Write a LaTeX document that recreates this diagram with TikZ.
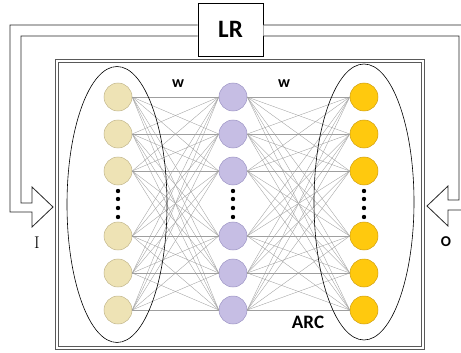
\documentclass[tikz,border=0pt]{standalone}
\usepackage{fontspec}
\setsansfont{Carlito}
\usepackage{tikz}
\usetikzlibrary{calc}

\definecolor{inbeige}{HTML}{EEE3B5}
\definecolor{inedge}{HTML}{C2B78C}
\definecolor{hidlav}{HTML}{C6BEE4}
\definecolor{hidedge}{HTML}{9D95C4}
\definecolor{outgold}{HTML}{FFC90E}
\definecolor{outedge}{HTML}{D09F10}

\begin{document}
\begin{tikzpicture} [x=1pt, y=-1pt,
  neuron/.style={circle, minimum size=28pt, inner sep=0pt, line width=.5pt},
  wire/.style={gray!75, line width=.35pt},
  hollow/.style={black!85, line width=.8pt, fill=white, line join=miter},
  frame/.style={gray!70!black, line width=.7pt},
  lab/.style={font=\sffamily\bfseries}]
\useasboundingbox (0,0) rectangle (461,353);
\clip (0,0) rectangle (461,353);

\node[draw, fill=white, minimum width=65pt, minimum height=53pt, line width=.8pt, font=\sffamily\bfseries\fontsize{25}{27}\selectfont] (lr) at (230.5,29.5) {LR};

\draw[hollow] ([yshift=4.5pt]lr.west) -- (10,25) -- (10,212) -- (32,212) -- (32,227) -- (53,207) -- (32,187) -- (32,203) -- (21,203) -- (21,36) -- ([yshift=-6.5pt]lr.west);
\draw[hollow] ([yshift=4.5pt]lr.east) -- (470,25) -- (470,210) -- (448,210) -- (448,226) -- (427,206) -- (448,186) -- (448,200) -- (459,200) -- (459,36) -- ([yshift=-6.5pt]lr.east);

\draw[frame] (55.5,59.5) rectangle (424.5,349.5);
\draw[frame] (58.5,62.5) rectangle (421.5,346.5);

\foreach \i/\y in {1/97, 2/134, 3/171, 4/236, 5/273, 6/310} {
  \node[neuron, fill=inbeige, draw=inedge] (l\i) at (118,\y) {};
  \node[neuron, fill=hidlav, draw=hidedge] (m\i) at (233,\y) {};
  \node[neuron, fill=outgold, draw=outedge] (r\i) at (364,\y) {};
}

\foreach \i in {1,...,6}
  \foreach \j in {1,...,6} {
    \draw[wire] (l\i.east) -- (m\j.west);
    \draw[wire] (m\i.east) -- (r\j.west);
  }

\foreach \x in {118, 233, 364}
  \foreach \y in {191, 199, 208, 217} \fill (\x,\y) circle (2.2);

\draw[black, line width=.6pt] (117,204.5) ellipse [x radius=50, y radius=138];
\draw[black, line width=.6pt] (364,202) ellipse [x radius=50, y radius=138];

\node[font=\sffamily\bfseries\fontsize{16}{18}\selectfont] (w1) at (178,84) {w};
\node[font=\sffamily\bfseries\fontsize{16}{18}\selectfont] (w2) at (284,84) {w};
\node[font=\sffamily\bfseries\fontsize{19}{21}\selectfont] (arc) at (308,322) {ARC};
\node[font=\fontsize{17}{19}\selectfont] (in) at (37,243) {I};
\node[font=\sffamily\bfseries\fontsize{15}{17}\selectfont] (out) at (446,242) {O};

\end{tikzpicture}
\end{document}
